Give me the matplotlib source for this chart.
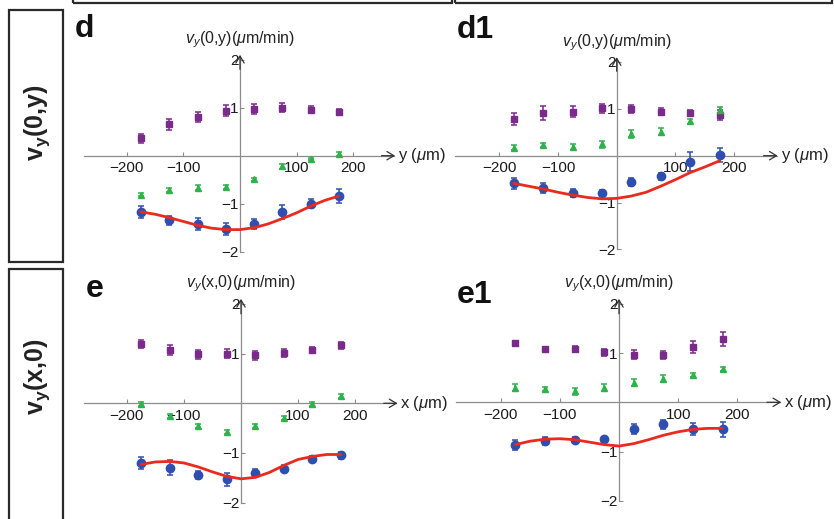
import matplotlib
matplotlib.use("Agg")
import matplotlib.pyplot as plt
from matplotlib.patches import Rectangle
import numpy as np

plt.rcParams['font.family'] = ['Liberation Sans', 'DejaVu Sans']
plt.rcParams['mathtext.fontset'] = 'custom'
plt.rcParams['mathtext.rm'] = 'Liberation Sans'
plt.rcParams['mathtext.it'] = 'Liberation Sans:italic'
plt.rcParams['mathtext.bf'] = 'Liberation Sans:bold'

# ---------------- data ----------------
positions = [-175, -125, -75, -25, 25, 75, 125, 175]
fit_x = [-175, -150, -125, -100, -75, -50, -25, 0, 25, 50, 75, 100, 125, 150, 175]

# panel d : v_y(0,y)
d_purple = [0.36, 0.65, 0.81, 0.94, 0.97, 1.00, 0.96, 0.91]
d_purple_err = [0.10, 0.11, 0.10, 0.11, 0.10, 0.10, 0.07, 0.07]
d_green = [-0.81, -0.71, -0.67, -0.66, -0.49, -0.22, -0.07, 0.04]
d_green_err = [0.04, 0.04, 0.05, 0.04, 0.03, 0.05, 0.03, 0.04]
d_blue = [-1.17, -1.35, -1.42, -1.53, -1.42, -1.17, -1.00, -0.84]
d_blue_err = [0.12, 0.10, 0.12, 0.13, 0.11, 0.14, 0.10, 0.14]
d_fit = [-1.17, -1.22, -1.29, -1.37, -1.45, -1.51, -1.54, -1.54, -1.50, -1.42,
         -1.31, -1.19, -1.05, -0.93, -0.84]

# panel d1 : v_y(0,y)
d1_purple = [0.78, 0.91, 0.94, 1.01, 1.00, 0.94, 0.91, 0.87]
d1_purple_err = [0.13, 0.15, 0.12, 0.10, 0.08, 0.07, 0.06, 0.10]
d1_green = [0.17, 0.23, 0.18, 0.24, 0.46, 0.51, 0.73, 0.98]
d1_green_err = [0.05, 0.05, 0.06, 0.07, 0.08, 0.07, 0.06, 0.06]
d1_blue = [-0.59, -0.69, -0.79, -0.79, -0.56, -0.44, -0.13, 0.01]
d1_blue_err = [0.12, 0.10, 0.09, 0.05, 0.09, 0.07, 0.20, 0.15]
d1_fit = [-0.59, -0.65, -0.71, -0.78, -0.84, -0.89, -0.92, -0.91, -0.86, -0.78,
          -0.65, -0.51, -0.36, -0.24, -0.11]

# panel e : v_y(x,0)
e_purple = [1.20, 1.07, 0.99, 1.00, 0.97, 1.01, 1.07, 1.17]
e_purple_err = [0.08, 0.10, 0.09, 0.09, 0.09, 0.08, 0.06, 0.07]
e_green = [-0.01, -0.25, -0.45, -0.57, -0.45, -0.30, -0.01, 0.15]
e_green_err = [0.04, 0.04, 0.04, 0.04, 0.04, 0.04, 0.04, 0.04]
e_blue = [-1.20, -1.30, -1.45, -1.53, -1.40, -1.32, -1.13, -1.05]
e_blue_err = [0.12, 0.15, 0.08, 0.13, 0.08, 0.07, 0.06, 0.08]
e_fit = [-1.23, -1.18, -1.17, -1.20, -1.28, -1.38, -1.47, -1.52, -1.49, -1.39,
         -1.25, -1.13, -1.07, -1.03, -1.03]

# panel e1 : v_y(x,0)
e1_purple = [1.20, 1.08, 1.08, 1.02, 0.97, 0.97, 1.13, 1.28]
e1_purple_err = [0.05, 0.05, 0.06, 0.07, 0.10, 0.08, 0.12, 0.14]
e1_green = [0.30, 0.27, 0.22, 0.30, 0.40, 0.48, 0.55, 0.68]
e1_green_err = [0.08, 0.05, 0.08, 0.08, 0.07, 0.07, 0.04, 0.04]
e1_blue = [-0.86, -0.79, -0.77, -0.75, -0.55, -0.45, -0.55, -0.55]
e1_blue_err = [0.10, 0.08, 0.06, 0.05, 0.10, 0.10, 0.12, 0.15]
e1_fit = [-0.86, -0.79, -0.75, -0.74, -0.76, -0.81, -0.86, -0.89, -0.84, -0.76,
          -0.67, -0.60, -0.55, -0.53, -0.53]

xticks = [-200, -100, 100, 200]
xtick_labels = ['\u2212200', '\u2212100', '100', '200']
yticks = [-2, -1, 1, 2]
ytick_labels = ['\u22122', '\u22121', '1', '2']

panel_letters = ['d', 'd1', 'e', 'e1']
ytitles = [r'$v_y$(0,y)($\mu$m/min)', r'$v_y$(0,y)($\mu$m/min)',
           r'$v_y$(x,0)($\mu$m/min)', r'$v_y$(x,0)($\mu$m/min)']
xtitles = [r'y ($\mu$m)', r'y ($\mu$m)', r'x ($\mu$m)', r'x ($\mu$m)']
row_titles = [r'$\mathbf{v_y}$(0,y)', r'$\mathbf{v_y}$(x,0)']

# ---------------- style ----------------
W, H = 834, 519
PURPLE = '#7a2a8a'
GREEN = '#2fb14b'
BLUE = '#2f4fae'
RED = '#ea2a1e'
AXC = '#8c8c8c'

fig = plt.figure(figsize=(W / 100, H / 100), dpi=100)

XL = 300
YL = 2.4
# origin px, px-per-unit x, px-per-unit y
geom = [
    (240.0, 155.7, 0.566, 48.0),
    (616.7, 155.7, 0.5875, 46.9),
    (241.0, 403.3, 0.571, 49.7),
    (619.0, 402.3, 0.592, 49.2),
]
letter_pos = [(75, 37), (457, 38), (86, 297), (457, 303)]

data = [
    (d_purple, d_purple_err, d_green, d_green_err, d_blue, d_blue_err, d_fit),
    (d1_purple, d1_purple_err, d1_green, d1_green_err, d1_blue, d1_blue_err, d1_fit),
    (e_purple, e_purple_err, e_green, e_green_err, e_blue, e_blue_err, e_fit),
    (e1_purple, e1_purple_err, e1_green, e1_green_err, e1_blue, e1_blue_err, e1_fit),
]

for i, (g, dd) in enumerate(zip(geom, data)):
    ox, oy, sx, sy = g
    left = ox - XL * sx
    top = oy - YL * sy
    w = 2 * XL * sx
    h = 2 * YL * sy
    ax = fig.add_axes([left / W, 1 - (top + h) / H, w / W, h / H])
    ax.set_xlim(-XL, XL)
    ax.set_ylim(-YL, YL)
    ax.patch.set_alpha(0)
    for s in ['top', 'right']:
        ax.spines[s].set_visible(False)
    ax.spines['left'].set_position('zero')
    ax.spines['bottom'].set_position('zero')
    ax.spines['left'].set_bounds(-2, 2.07)
    ax.spines['bottom'].set_bounds(-275, 272)
    for s in ['left', 'bottom']:
        ax.spines[s].set_color(AXC)
        ax.spines[s].set_linewidth(0.9)
    ax.set_xticks(xticks)
    ax.set_xticklabels(xtick_labels)
    ax.set_yticks(yticks)
    ax.set_yticklabels(ytick_labels)
    ax.tick_params(axis='x', direction='in', length=3, width=0.8, color=AXC,
                   labelsize=11, pad=4, labelcolor='#1a1a1a')
    ax.tick_params(axis='y', direction='in', length=3, width=0.8, color=AXC,
                   labelsize=11, pad=1, labelcolor='#1a1a1a')
    # arrows
    ax.annotate('', xy=(274, 0), xytext=(250, 0),
                arrowprops=dict(arrowstyle='->,head_length=0.5,head_width=0.3',
                                color='#333333', lw=0.9, shrinkA=0, shrinkB=0))
    ax.annotate('', xy=(0, 2.1), xytext=(0, 1.8),
                arrowprops=dict(arrowstyle='->,head_length=0.5,head_width=0.3',
                                color='#333333', lw=0.9, shrinkA=0, shrinkB=0))

    pv, pe, gv, ge, bv, be, fv = dd
    ax.errorbar(positions, pv, yerr=pe, fmt='s', color=PURPLE, ms=4,
                elinewidth=1.1, capsize=2.2, capthick=1.1, zorder=3)
    ax.errorbar(positions, gv, yerr=ge, fmt='^', color=GREEN, ms=4.5,
                elinewidth=1.1, capsize=2.2, capthick=1.1, zorder=3)
    ax.errorbar(positions, bv, yerr=be, fmt='o', color=BLUE, ms=6,
                elinewidth=1.1, capsize=2.2, capthick=1.1, zorder=3)
    ax.plot(fit_x, fv, color=RED, lw=2.0, zorder=4, solid_capstyle='round')

    ax.text(0, 2.2, ytitles[i], ha='center', va='bottom', fontsize=11.5,
            color='#222222')
    ax.text(279, 0, xtitles[i], ha='left', va='center', fontsize=12,
            color='#222222')

    lx, ly = letter_pos[i]
    fig.text(lx / W, 1 - ly / H, panel_letters[i], fontsize=23,
             fontweight='bold', ha='left', va='baseline', color='#111111')

# frames
def px_rect(x0, y0, x1, y1):
    r = Rectangle((x0 / W, 1 - y1 / H), (x1 - x0) / W, (y1 - y0) / H,
                  transform=fig.transFigure, fill=False, edgecolor='#2a2a2a',
                  lw=1.6, clip_on=False)
    fig.add_artist(r)

px_rect(73, -20, 452, 3)
px_rect(455, -20, 832, 3)
px_rect(9, 10, 63, 262)
px_rect(9, 269, 63, 540)

fig.text(37 / W, 1 - 123 / H, row_titles[0], rotation=90, ha='center',
         va='center', fontsize=18, fontweight='bold', color='#222222')
fig.text(37 / W, 1 - 377 / H, row_titles[1], rotation=90, ha='center',
         va='center', fontsize=18, fontweight='bold', color='#222222')

fig.savefig('out.png', dpi=100)
